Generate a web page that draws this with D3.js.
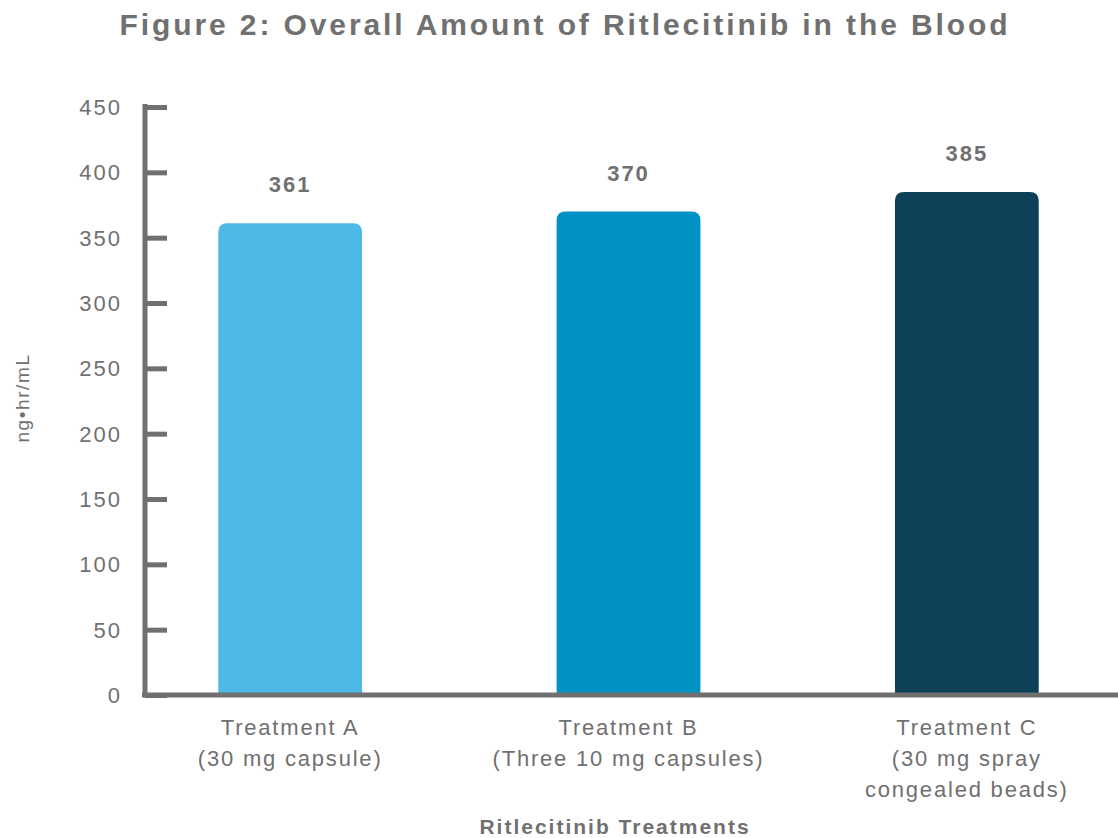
<!DOCTYPE html>
<html>
<head>
<meta charset="utf-8">
<script src="https://cdn.jsdelivr.net/npm/d3@7"></script>
<style>
  body { margin: 0; background: #fff; }
  text { font-family: Arial, "Liberation Sans", Helvetica, sans-serif; }
</style>
</head>
<body>
<div id="chart"></div>
<script>
// Data
const treatments = ["Treatment A", "Treatment B", "Treatment C"];
const treatmentNotes = [["(30 mg capsule)"], ["(Three 10 mg capsules)"], ["(30 mg spray", "congealed beads)"]];
const auc = [361, 370, 385];
const barColors = ["#4eb9e6", "#0092c3", "#0d4157"];
const yTicks = [0, 50, 100, 150, 200, 250, 300, 350, 400, 450];

const W = 1118, H = 838;
const grey = "#707070";

const svg = d3.select("#chart")
  .append("svg")
  .attr("width", W)
  .attr("height", H);

// scales
const x = d3.scaleBand()
  .domain(treatments)
  .range([121, 1136])
  .paddingInner(0.575)
  .paddingOuter(0.2875);

const y = d3.scaleLinear()
  .domain([0, 450])
  .range([695, 107]);

// title
svg.append("text")
  .attr("x", 565)
  .attr("y", 35)
  .attr("text-anchor", "middle")
  .style("font-size", "30px")
  .style("font-weight", "bold")
  .style("letter-spacing", "2.9px")
  .style("fill", grey)
  .text("Figure 2: Overall Amount of Ritlecitinib in the Blood");

// bars with rounded top corners
const r = 9;
svg.append("g")
  .selectAll("path")
  .data(auc)
  .join("path")
  .attr("d", (d, i) => {
    const x0 = x(treatments[i]), x1 = x0 + x.bandwidth();
    const y0 = y(d), yb = y(0);
    return `M${x0},${yb}V${y0 + r}Q${x0},${y0} ${x0 + r},${y0}H${x1 - r}Q${x1},${y0} ${x1},${y0 + r}V${yb}Z`;
  })
  .attr("fill", (d, i) => barColors[i]);

// value labels
svg.append("g")
  .selectAll("text")
  .data(auc)
  .join("text")
  .attr("x", (d, i) => x(treatments[i]) + x.bandwidth() / 2)
  .attr("y", d => y(d) - 31)
  .attr("text-anchor", "middle")
  .style("font-size", "22px")
  .style("font-weight", "bold")
  .style("letter-spacing", "2px")
  .style("fill", grey)
  .text(d => d);

// y axis
const yAxis = svg.append("g")
  .attr("transform", "translate(145,0)")
  .call(d3.axisRight(y).tickValues(yTicks).tickSize(22).tickFormat(""));
yAxis.select(".domain").remove();
yAxis.selectAll(".tick line")
  .attr("stroke", grey)
  .attr("stroke-width", 5);

svg.append("line")
  .attr("x1", 145).attr("x2", 145)
  .attr("y1", y(450) - 3).attr("y2", y(0) + 2)
  .attr("stroke", grey)
  .attr("stroke-width", 5);

svg.append("g")
  .selectAll("text")
  .data(yTicks)
  .join("text")
  .attr("x", 122)
  .attr("y", d => y(d) + 8)
  .attr("text-anchor", "end")
  .style("font-size", "22px")
  .style("letter-spacing", "2px")
  .style("fill", grey)
  .text(d => d);

// x axis line
svg.append("line")
  .attr("x1", 142).attr("x2", W)
  .attr("y1", y(0)).attr("y2", y(0))
  .attr("stroke", grey)
  .attr("stroke-width", 5);

// category labels
const cat = svg.append("g")
  .selectAll("text")
  .data(treatments)
  .join("text")
  .attr("x", d => x(d) + x.bandwidth() / 2)
  .attr("y", 735)
  .attr("text-anchor", "middle")
  .style("font-size", "22px")
  .style("letter-spacing", "1.8px")
  .style("fill", grey);

cat.each(function (d, i) {
  const t = d3.select(this);
  const lines = [d].concat(treatmentNotes[i]);
  lines.forEach((l, j) => {
    t.append("tspan")
      .attr("x", x(d) + x.bandwidth() / 2)
      .attr("dy", j === 0 ? 0 : 31)
      .text(l);
  });
});

// axis titles
svg.append("text")
  .attr("x", 615)
  .attr("y", 834)
  .attr("text-anchor", "middle")
  .style("font-size", "21px")
  .style("font-weight", "bold")
  .style("letter-spacing", "2px")
  .style("fill", grey)
  .text("Ritlecitinib Treatments");

svg.append("text")
  .attr("transform", "translate(29,398) rotate(-90)")
  .attr("text-anchor", "middle")
  .style("font-size", "19px")
  .style("letter-spacing", "1.6px")
  .style("fill", grey)
  .text("ng\u2022hr/mL");
</script>
</body>
</html>
